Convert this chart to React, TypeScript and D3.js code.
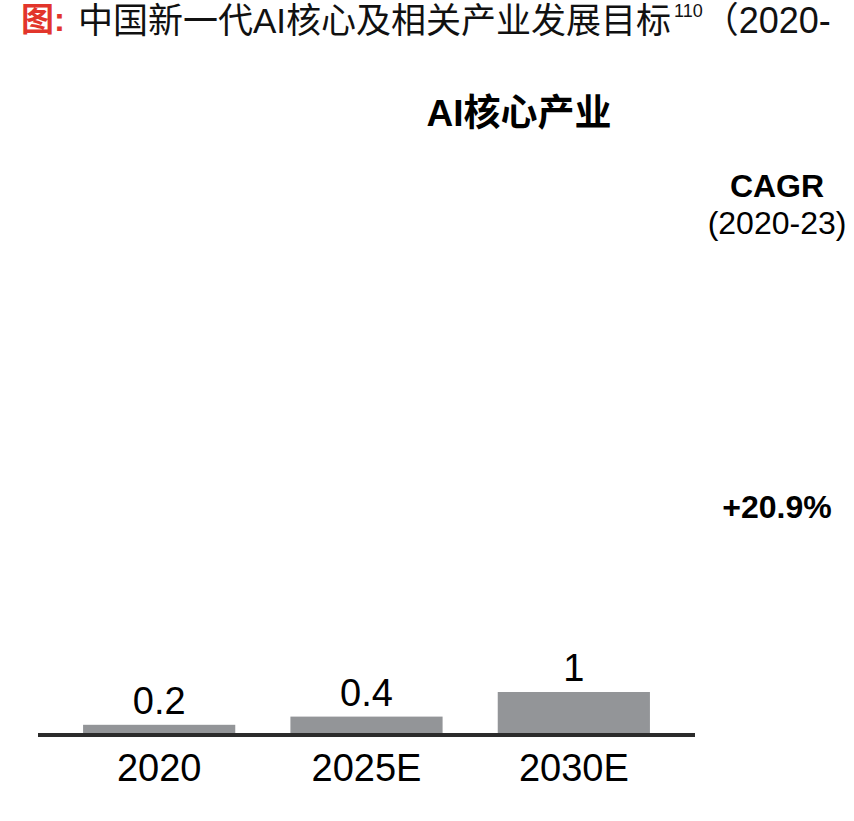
import React from "react";
import * as d3 from "d3";

const categories = ["2020", "2025E", "2030E"];
const values = [0.2, 0.4, 1];
const valueLabels = ["0.2", "0.4", "1"];
const chartTitle = "AI核心产业";
const cagrHeader = "CAGR";
const cagrPeriod = "(2020-23)";
const cagrValue = "+20.9%";
const figPrefix = "图:";
const figTitle = "中国新一代AI核心及相关产业发展目标";
const figNote = "110";
const figTail = "（2020-";

const W = 854;
const H = 821;
const FONT = "'Liberation Sans', Arial, 'Noto Sans CJK SC', sans-serif";
const CJK = "'Liberation Sans', 'Noto Sans CJK SC', sans-serif";

export default function App() {
  const x = d3
    .scaleBand<string>()
    .domain(categories)
    .range([55.5, 677.5])
    .paddingInner(0.266)
    .paddingOuter(0.133);
  const y = d3.scaleLinear().domain([0, 10]).range([733, 323]);

  return (
    <svg
      width={W}
      height={H}
      style={{ position: "absolute", left: 0, top: 0, background: "#fff" }}
    >
      <rect x={0} y={0} width={W} height={H} fill="#fff" />
      {/* figure title */}
      <text x={21} y={31} fontFamily={CJK} fontSize={33} fontWeight={700} fill="#e2352b">
        {figPrefix}
      </text>
      <text x={78} y={33} fontFamily={CJK} fontSize={35} fontWeight={400} fill="#111">
        {figTitle}
        <tspan fontSize={18} dy={-16} dx={3}>{figNote}</tspan>
        <tspan dy={16} dx={0} fontSize={36}>{figTail}</tspan>
      </text>

      {/* chart title */}
      <text
        x={519}
        y={126}
        textAnchor="middle"
        fontFamily={CJK}
        fontSize={37}
        fontWeight={700}
        fill="#000"
      >
        {chartTitle}
      </text>

      {/* CAGR */}
      <text x={777} y={197} textAnchor="middle" fontFamily={FONT} fontSize={32} fontWeight={700} fill="#000">
        {cagrHeader}
      </text>
      <text x={777} y={234} textAnchor="middle" fontFamily={FONT} fontSize={32} fill="#000">
        {cagrPeriod}
      </text>
      <text x={777} y={518} textAnchor="middle" fontFamily={FONT} fontSize={32} fontWeight={700} fill="#000">
        {cagrValue}
      </text>

      {/* bars */}
      {categories.map((c, i) => (
        <g key={c}>
          <rect
            x={x(c)!}
            y={y(values[i])}
            width={x.bandwidth()}
            height={y(0) - y(values[i])}
            fill="#939598"
          />
          <text
            x={x(c)! + x.bandwidth() / 2}
            y={y(values[i]) - 11}
            textAnchor="middle"
            fontFamily={FONT}
            fontSize={38}
            fill="#000"
          >
            {valueLabels[i]}
          </text>
          <text
            x={x(c)! + x.bandwidth() / 2}
            y={781}
            textAnchor="middle"
            fontFamily={FONT}
            fontSize={38}
            fill="#000"
          >
            {c}
          </text>
        </g>
      ))}

      {/* baseline */}
      <line x1={38} x2={695} y1={735} y2={735} stroke="#2b2b2b" strokeWidth={4} />
    </svg>
  );
}
